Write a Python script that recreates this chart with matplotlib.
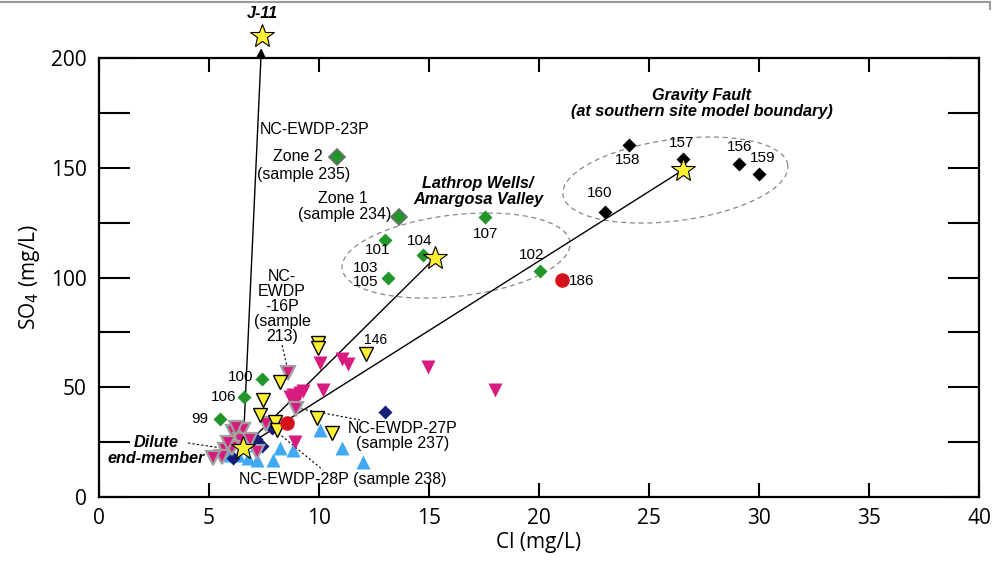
import numpy as np
import matplotlib
matplotlib.use("Agg")
import matplotlib.pyplot as plt
from matplotlib.lines import Line2D

plt.rcParams['font.family'] = ['Liberation Sans', 'DejaVu Sans']

# end-member stars (Cl, SO4)
star_names = ["J-11", "dilute", "lathrop", "gravity"]
star_cl = [7.41, 6.55, 15.27, 26.55]
star_so4 = [210.0, 22.3, 108.9, 149.0]

# green diamonds (Lathrop Wells / Amargosa Valley and others)
green_cl = [17.55, 13.0, 14.73, 13.14, 20.05, 7.41, 6.59, 5.5]
green_so4 = [127.6, 117.1, 110.3, 99.8, 103.0, 53.8, 45.6, 35.5]

# NC-EWDP-23P zones (green with grey edge)
zone_cl = [10.82, 13.64]
zone_so4 = [154.9, 127.6]

# Gravity Fault black diamonds
black_cl = [24.09, 26.55, 29.09, 30.0, 23.0]
black_so4 = [160.4, 154.0, 151.7, 147.2, 129.8]

# red circles
red_cl = [21.05, 8.55]
red_so4 = [98.9, 33.7]

# navy diamonds
navy_cl = [13.0, 7.86, 7.41, 6.09, 7.14]
navy_so4 = [38.7, 31.4, 23.2, 17.8, 26.5]

# light blue up triangles
blue_cl = [10.05, 8.23, 8.82, 11.05, 12.0, 7.91, 7.18, 6.32, 6.77, 5.95, 7.14]
blue_so4 = [30.5, 22.3, 21.4, 22.3, 15.9, 16.9, 16.9, 19.1, 17.8, 19.1, 23.7]

# magenta down triangles
mag_cl = [10.05, 11.05, 11.32, 10.18, 8.82, 9.14, 9.27, 8.68, 8.91, 14.95, 18.0, 8.95]
mag_so4 = [61.0, 62.9, 60.6, 48.7, 46.5, 47.4, 48.3, 45.6, 25.1, 59.2, 48.7, 44.2]

# magenta down triangles with grey outline
magout_cl = [6.09, 6.55, 6.41, 5.73, 5.59, 5.18, 6.86, 6.05, 7.18, 6.23, 7.59, 5.86, 8.59, 8.95]
magout_so4 = [29.6, 30.5, 26.0, 21.4, 18.2, 17.8, 26.0, 22.3, 20.5, 31.4, 33.3, 24.6, 56.5, 40.1]

# yellow down triangles
yel_cl = [9.95, 9.95, 12.14, 8.23, 7.45, 7.32, 8.0, 9.91, 10.59, 8.09]
yel_so4 = [70.2, 67.9, 65.1, 52.4, 44.2, 37.4, 34.2, 36.0, 29.2, 30.5]

# well number labels
num_text = ["107", "101", "104", "103\n105", "102", "186", "158", "157", "156", "159", "160", "100", "106", "99"]
num_cl = [17.55, 12.68, 14.59, 12.14, 19.68, 21.95, 24.05, 26.5, 29.14, 30.18, 22.77, 6.45, 5.68, 4.6]
num_so4 = [119.8, 112.5, 116.6, 101.2, 110.3, 98.4, 153.5, 161.3, 159.5, 154.4, 138.5, 54.7, 45.6, 35.5]

fig = plt.figure(figsize=(9.94, 5.69), dpi=100)
ax = fig.add_axes([99 / 994, 1 - 497 / 569, 880 / 994, 439 / 569])
ax.set_xlim(0, 40)
ax.set_ylim(0, 200)
fig.canvas.draw()


def dashed_ellipse(cx, cy, a_px, b_px, ang_deg):
    # ellipse defined in screen pixels, converted back to data
    c = ax.transData.transform((cx, cy))
    t = np.linspace(0, 2 * np.pi, 200)
    th = np.radians(ang_deg)
    px = c[0] + a_px * np.cos(t) * np.cos(th) - b_px * np.sin(t) * np.sin(th)
    py = c[1] + a_px * np.cos(t) * np.sin(th) + b_px * np.sin(t) * np.cos(th)
    pts = ax.transData.inverted().transform(np.column_stack([px, py]))
    ax.plot(pts[:, 0], pts[:, 1], ls=(0, (4, 3)), color='#888888', lw=0.9, zorder=1)


dashed_ellipse(16.23, 110.0, 114.7, 40.7, 6.6)
dashed_ellipse(26.2, 144.4, 113.4, 40.7, 7.6)

# mixing lines
d = (star_cl[1], star_so4[1])
ax.plot([d[0], star_cl[2]], [d[1], star_so4[2]], color='k', lw=1, zorder=2)
ax.plot([d[0], star_cl[3]], [d[1], star_so4[3]], color='k', lw=1, zorder=2)
ax.annotate('', xy=(7.38, 204.5), xytext=d,
            arrowprops=dict(arrowstyle='-|>', color='k', lw=1, mutation_scale=13,
                            shrinkA=0, shrinkB=0),
            annotation_clip=False, zorder=2)

# dotted leaders
leaders = [((4.05, 24.6), (5.59, 22.3)), ((8.32, 69.2), (8.59, 57.5)),
           ((9.0, 40.5), (11.86, 35.1)), ((8.14, 29.2), (10.18, 12.3))]
for p0, p1 in leaders:
    ax.plot([p0[0], p1[0]], [p0[1], p1[1]], ls=(0, (2, 2)), color='k', lw=0.8, zorder=2)

ax.plot(blue_cl, blue_so4, '^', color='#3fa9f5', ms=10.5, mec='none', zorder=3)
ax.plot(navy_cl, navy_so4, 'D', color='#151f7a', ms=7.5, mec='none', zorder=3)
ax.plot(mag_cl, mag_so4, 'v', color='#d81b7f', ms=10.5, mec='none', zorder=4)
ax.plot(magout_cl, magout_so4, 'v', color='#d81b7f', ms=10.5, mec='#a0a0a0', mew=1.6, zorder=4)
ax.plot(yel_cl, yel_so4, 'v', color='#fff033', ms=10.5, mec='k', mew=1, zorder=5)
ax.plot(green_cl, green_so4, 'D', color='#22962a', ms=7.5, mec='none', zorder=5)
ax.plot(zone_cl, zone_so4, 'D', color='#22962a', ms=8.5, mec='#6e6e6e', mew=1.2, zorder=5)
ax.plot(black_cl, black_so4, 'D', color='k', ms=7.5, mec='none', zorder=5)
ax.plot(red_cl, red_so4, 'o', color='#d4111b', ms=10.5, mec='none', zorder=5)
ax.plot(star_cl, star_so4, '*', color='#fff033', ms=18, mec='k', mew=0.8, zorder=6, clip_on=False)

for s, x, y in zip(num_text, num_cl, num_so4):
    ax.text(x, y, s, fontsize=11, ha='center', va='center', linespacing=1.05, zorder=7)
ax.text(12.59, 71.5, "146", fontsize=10, ha='center', va='center')

bi = dict(fontweight='bold', fontstyle='italic', ha='center', va='center', fontsize=11.7)
ax.text(7.41, 220.5, "J-11", clip_on=False, **bi)
ax.text(17.23, 139.2, "Lathrop Wells/\nAmargosa Valley", linespacing=1.05, **bi)
ax.text(27.4, 179.2, "Gravity Fault\n(at southern site model boundary)", linespacing=1.05, **bi)
ax.text(4.82, 21.2, "Dilute\nend-member", linespacing=1.05, multialignment='center',
        fontweight='bold', fontstyle='italic', ha='right', va='center', fontsize=11.7)

ann = dict(fontsize=11.5, ha='center', va='center')
ax.text(9.82, 167.2, "NC-EWDP-23P", **ann)
ax.text(10.18, 154.9, "Zone 2", fontsize=11.5, ha='right', va='center')
ax.text(9.32, 146.7, "(sample 235)", **ann)
ax.text(11.09, 135.8, "Zone 1", **ann)
ax.text(11.18, 128.5, "(sample 234)", **ann)
ax.text(8.32, 86.6, "NC-\nEWDP\n-16P\n(sample\n213)", linespacing=1.0, **ann)
ax.text(13.82, 28.0, "NC-EWDP-27P\n(sample 237)", linespacing=1.0, **ann)
ax.text(11.09, 8.2, "NC-EWDP-28P (sample 238)", **ann)

# axes styling
ax.set_xticks(np.arange(0, 41, 5))
ax.set_yticks(np.arange(0, 201, 50))
ax.set_yticks(np.arange(25, 200, 50), minor=True)
ax.tick_params(axis='x', which='both', direction='in', length=10, width=1.5,
               top=True, pad=8, labelsize=15)
ax.tick_params(axis='y', which='both', direction='in', length=22, width=1.5,
               right=True, pad=9, labelsize=15)
for lab in ax.get_xticklabels() + ax.get_yticklabels():
    lab.set_fontfamily('Open Sans')
for sp in ax.spines.values():
    sp.set_linewidth(1.6)

ax.set_xlabel("Cl (mg/L)", fontsize=15, family='Open Sans', labelpad=2)
ax.set_ylabel("SO$_4$ (mg/L)", fontsize=15, family='Open Sans', labelpad=6)

# frame line at the top of the figure
fig.add_artist(Line2D([0, 0.996], [0.996, 0.996], color='#9a9a9a', lw=1.5))
fig.add_artist(Line2D([0.996, 0.996], [0.996, 0.985], color='#9a9a9a', lw=1.5))

fig.savefig("out.png", dpi=100)
